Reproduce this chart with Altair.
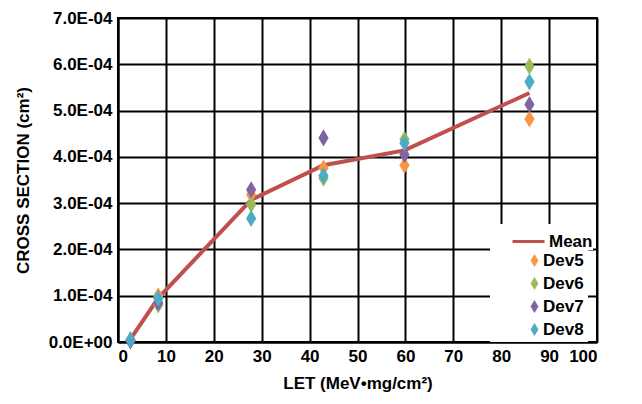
import altair as alt
import pandas as pd

let_x = [2.6, 8.4, 27.8, 42.9, 59.8, 85.9]
mean_y = [0.06e-4, 0.95e-4, 3.07e-4, 3.82e-4, 4.14e-4, 5.38e-4]
dev5 = [0.05e-4, 1.00e-4, 3.18e-4, 3.76e-4, 3.82e-4, 4.82e-4]
dev6 = [0.04e-4, 0.80e-4, 2.97e-4, 3.54e-4, 4.38e-4, 5.96e-4]
dev7 = [0.02e-4, 0.85e-4, 3.29e-4, 4.41e-4, 4.05e-4, 5.13e-4]
dev8 = [0.05e-4, 0.94e-4, 2.67e-4, 3.59e-4, 4.30e-4, 5.62e-4]

dev_names = ["Dev5", "Dev6", "Dev7", "Dev8"]
dev_colors = ["#F79646", "#9BBB59", "#8064A2", "#4BACC6"]
mean_color = "#C0504D"
diamond = "M0,-1L0.6,0L0,1L-0.6,0Z"

mean_df = pd.DataFrame({"x": let_x, "y": mean_y, "series": "Mean"})
rows = []
for name, vals in zip(dev_names, [dev5, dev6, dev7, dev8]):
    for xv, yv in zip(let_x, vals):
        rows.append({"x": xv, "y": yv, "series": name})
dev_df = pd.DataFrame(rows)

FONT = "Liberation Sans"

axis_style = dict(
    grid=True, gridColor="black", gridWidth=2, gridOpacity=1,
    domainColor="black", domainWidth=2, ticks=False,
    labelFont=FONT, labelFontSize=17, labelFontWeight="bold", labelColor="black",
    titleFont=FONT, titleFontSize=17, titleFontWeight="bold", titleColor="black",
)

xenc = alt.X("x:Q", scale=alt.Scale(domain=[0, 100], nice=False),
             axis=alt.Axis(values=list(range(0, 101, 10)), title="LET (MeV•mg/cm²)",
                           labelPadding=6, titlePadding=11, **axis_style))
yenc = alt.Y("y:Q", scale=alt.Scale(domain=[0, 7e-4], nice=False),
             axis=alt.Axis(values=[i * 1e-4 for i in range(8)],
                           labelExpr="datum.value < 1e-6 ? '0.0E+00' : format(datum.value*1e4, '.1f') + 'E-04'",
                           labelPadding=6, title="CROSS SECTION (cm²)", titlePadding=16, **axis_style))

common_legend = dict(
    title=None, orient="none", fillColor="white",
    labelFont=FONT, labelFontSize=17, labelFontWeight="bold", labelColor="black",
)

line = alt.Chart(mean_df).mark_line(strokeWidth=4).encode(
    x=xenc, y=yenc,
    color=alt.Color("series:N", scale=alt.Scale(domain=["Mean"], range=[mean_color]),
                    legend=alt.Legend(legendX=372, legendY=206, symbolType="stroke",
                                      symbolSize=1024, symbolStrokeWidth=3, padding=0,
                                      symbolOffset=21, labelOffset=3, zindex=2,
                                      **common_legend)))

pts = alt.Chart(dev_df).mark_point(filled=True, opacity=1, shape=diamond, size=290).encode(
    x=xenc, y=yenc,
    color=alt.Color("series:N", scale=alt.Scale(domain=dev_names, range=dev_colors),
                    legend=alt.Legend(legendX=372, legendY=230, symbolType=diamond,
                                      symbolSize=170, symbolStrokeWidth=0, padding=4,
                                      symbolOffset=32, labelOffset=0, rowPadding=5,
                                      zindex=1, **common_legend)))

chart = alt.layer(line, pts).resolve_scale(color="independent").properties(
    width=479, height=324,
    background="white",
    autosize=alt.AutoSizeParams(type="none"),
    padding={"left": 110, "top": 10, "right": 37, "bottom": 54},
).configure_view(stroke="black", strokeWidth=2)

chart.save("out.html", embed_options={"renderer": "svg", "actions": False})
